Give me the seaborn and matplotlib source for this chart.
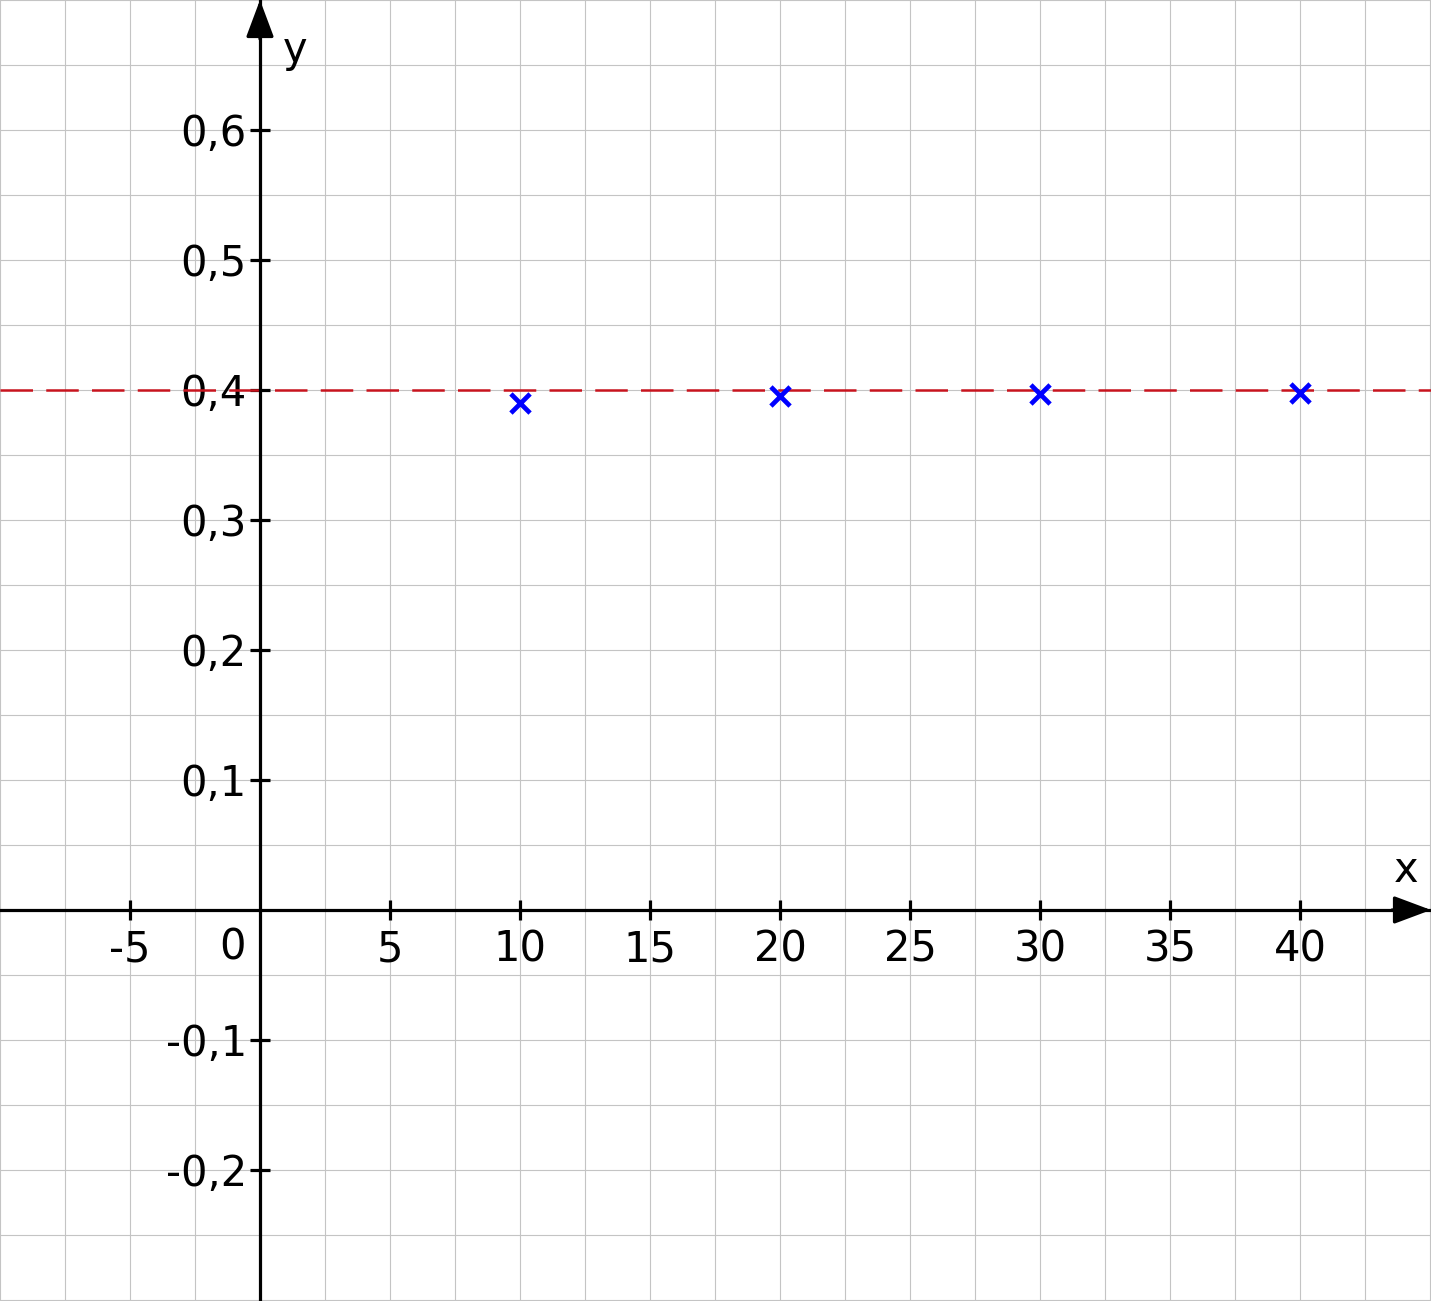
import numpy as np
import pandas as pd
import matplotlib
matplotlib.use("Agg")
import matplotlib.pyplot as plt
import seaborn as sns
from matplotlib.ticker import MultipleLocator, FixedLocator

# data
n_values = [10, 20, 30, 40]
y_values = [0.39, 0.395, 0.397, 0.3975]
limit = 0.4

x_ticks = [-5, 5, 10, 15, 20, 25, 30, 35, 40]
x_labels = ['-5', '5', '10', '15', '20', '25', '30', '35', '40']
y_ticks = [-0.2, -0.1, 0.1, 0.2, 0.3, 0.4, 0.5, 0.6]
y_labels = ['-0,2', '-0,1', '0,1', '0,2', '0,3', '0,4', '0,5', '0,6']

df = pd.DataFrame({'n': n_values, 'y': y_values})

sns.set_style('white')
plt.rcParams['font.family'] = ['DejaVu Sans']

fig = plt.figure(figsize=(14.31, 13.01), dpi=100)
ax = fig.add_axes([0, 0, 1, 1])

xmin, xmax = -10, 45.04
ymin, ymax = -0.3008, 0.7
ax.set_xlim(xmin, xmax)
ax.set_ylim(ymin, ymax)

# grid every half step
ax.xaxis.set_minor_locator(MultipleLocator(2.5))
ax.yaxis.set_minor_locator(MultipleLocator(0.05))
ax.grid(which='both', color='#c4c4c4', lw=0.8, zorder=0)
ax.set_axisbelow(True)

# axes through zero
for s in ['top', 'right']:
    ax.spines[s].set_visible(False)
for s in ['left', 'bottom']:
    ax.spines[s].set_position(('data', 0))
    ax.spines[s].set_linewidth(2.3)
    ax.spines[s].set_color('black')

ax.xaxis.set_major_locator(FixedLocator(x_ticks))
ax.set_xticklabels(x_labels)
ax.yaxis.set_major_locator(FixedLocator(y_ticks))
ax.set_yticklabels(y_labels)
ax.tick_params(which='major', direction='inout', length=15, width=2.3,
               labelsize=30, color='black', labelcolor='black',
               bottom=True, left=True)
ax.tick_params(axis='x', pad=6)
ax.tick_params(axis='y', pad=2)
ax.tick_params(which='minor', length=0)

# arrow heads
ax.annotate('', xy=(0, ymax), xytext=(0, ymax - 0.03),
            arrowprops=dict(arrowstyle='-|>,head_length=1.15,head_width=0.43',
                            mutation_scale=20, lw=2.3, color='black',
                            shrinkA=0, shrinkB=0), annotation_clip=False)
ax.annotate('', xy=(xmax, 0), xytext=(xmax - 1.5, 0),
            arrowprops=dict(arrowstyle='-|>,head_length=1.15,head_width=0.43',
                            mutation_scale=20, lw=2.3, color='black',
                            shrinkA=0, shrinkB=0), annotation_clip=False)

ax.text(-1.04, -0.029, '0', fontsize=30, ha='center', va='center', color='black')
ax.text(1.35, 0.6615, 'y', fontsize=30, ha='center', va='center', color='black')
ax.text(44.08, 0.031, 'x', fontsize=30, ha='center', va='center', color='black')

ax.axhline(limit, color='#c8141e', lw=1.8, dashes=(13, 5.3), zorder=2)

sns.scatterplot(data=df, x='n', y='y', marker='x', s=190, linewidth=3.4,
                color='#0000ff', ax=ax, zorder=3)
ax.set_xlabel('')
ax.set_ylabel('')

fig.savefig('out.png', dpi=100)
